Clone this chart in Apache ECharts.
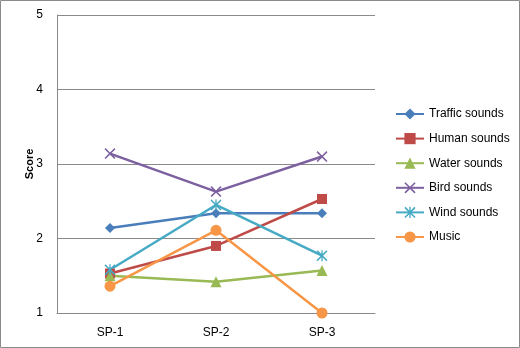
<!DOCTYPE html>
<html>
<head>
<meta charset="utf-8">
<script src="https://cdn.jsdelivr.net/npm/echarts@6/dist/echarts.min.js"></script>
<style>
  html, body { margin: 0; padding: 0; background: #fff; }
  #main { width: 520px; height: 348px; }
</style>
</head>
<body>
<div id="main"></div>
<script>
var categories = ['SP-1', 'SP-2', 'SP-3'];
var seriesNames = ['Traffic sounds', 'Human sounds', 'Water sounds', 'Bird sounds', 'Wind sounds', 'Music'];
var traffic = [2.14, 2.34, 2.34];
var human = [1.53, 1.90, 2.53];
var water = [1.50, 1.42, 1.57];
var bird = [3.14, 2.63, 3.10];
var wind = [1.58, 2.45, 1.77];
var music = [1.36, 2.11, 1.00];
var colors = ['#4a7ebb', '#be4b48', '#98b954', '#7d60a0', '#46aac5', '#f79646'];

// X and asterisk markers (filled paths)
var xPath = 'path://M0,1 L1,0 L5,4 L9,0 L10,1 L6,5 L10,9 L9,10 L5,6 L1,10 L0,9 L4,5 Z';
var starPath = 'path://M0,1 L1,0 L5,4 L9,0 L10,1 L6,5 L10,9 L9,10 L5,6 L1,10 L0,9 L4,5 Z M4.4,0 L5.6,0 L5.6,10 L4.4,10 Z';
var symbols = ['diamond', 'rect', 'triangle', xPath, starPath, 'circle'];
var sizes = [10, 10, 11, 11, 11, 11];
var values = [traffic, human, water, bird, wind, music];

var font = '"Liberation Sans", Arial, sans-serif';

var series = [];
for (var i = 0; i < seriesNames.length; i++) {
    series.push({
        name: seriesNames[i],
        type: 'line',
        data: values[i],
        symbol: symbols[i],
        symbolSize: sizes[i],
        lineStyle: {width: 2.5, color: colors[i]},
        itemStyle: {color: colors[i]}
    });
}

var myChart = echarts.init(document.getElementById('main'));
var option = {
    color: colors,
    animation: false,
    textStyle: {fontFamily: font},
    graphic: [{
        type: 'rect',
        shape: {x: 0.5, y: 0.5, width: 519, height: 347},
        style: {fill: 'none', stroke: '#8a8a8a', lineWidth: 1},
        silent: true
    }],
    grid: {left: 57, top: 15, right: 145, bottom: 35},
    legend: {
        orient: 'vertical',
        left: 390,
        top: 102,
        itemWidth: 28,
        itemHeight: 14,
        itemGap: 10.6,
        data: seriesNames,
        textStyle: {fontFamily: font, fontSize: 12, color: '#000', lineHeight: 14}
    },
    xAxis: {
        type: 'category',
        data: categories,
        boundaryGap: true,
        axisLine: {lineStyle: {color: '#8a8a8a', width: 1}},
        axisTick: {show: false},
        axisLabel: {color: '#000', fontSize: 12, margin: 14, fontFamily: font}
    },
    yAxis: {
        type: 'value',
        min: 1,
        max: 5,
        interval: 1,
        name: 'Score',
        nameLocation: 'middle',
        nameGap: 22,
        nameMoveOverlap: false,
        nameRotate: 90,
        nameTextStyle: {fontWeight: 'bold', fontSize: 11, color: '#000', fontFamily: font},
        axisLine: {show: true, lineStyle: {color: '#8a8a8a', width: 1}},
        axisTick: {show: false},
        axisLabel: {color: '#000', fontSize: 12, margin: 14, fontFamily: font},
        splitLine: {lineStyle: {color: '#8a8a8a', width: 1}}
    },
    series: series
};
myChart.setOption(option, true);
</script>
</body>
</html>
